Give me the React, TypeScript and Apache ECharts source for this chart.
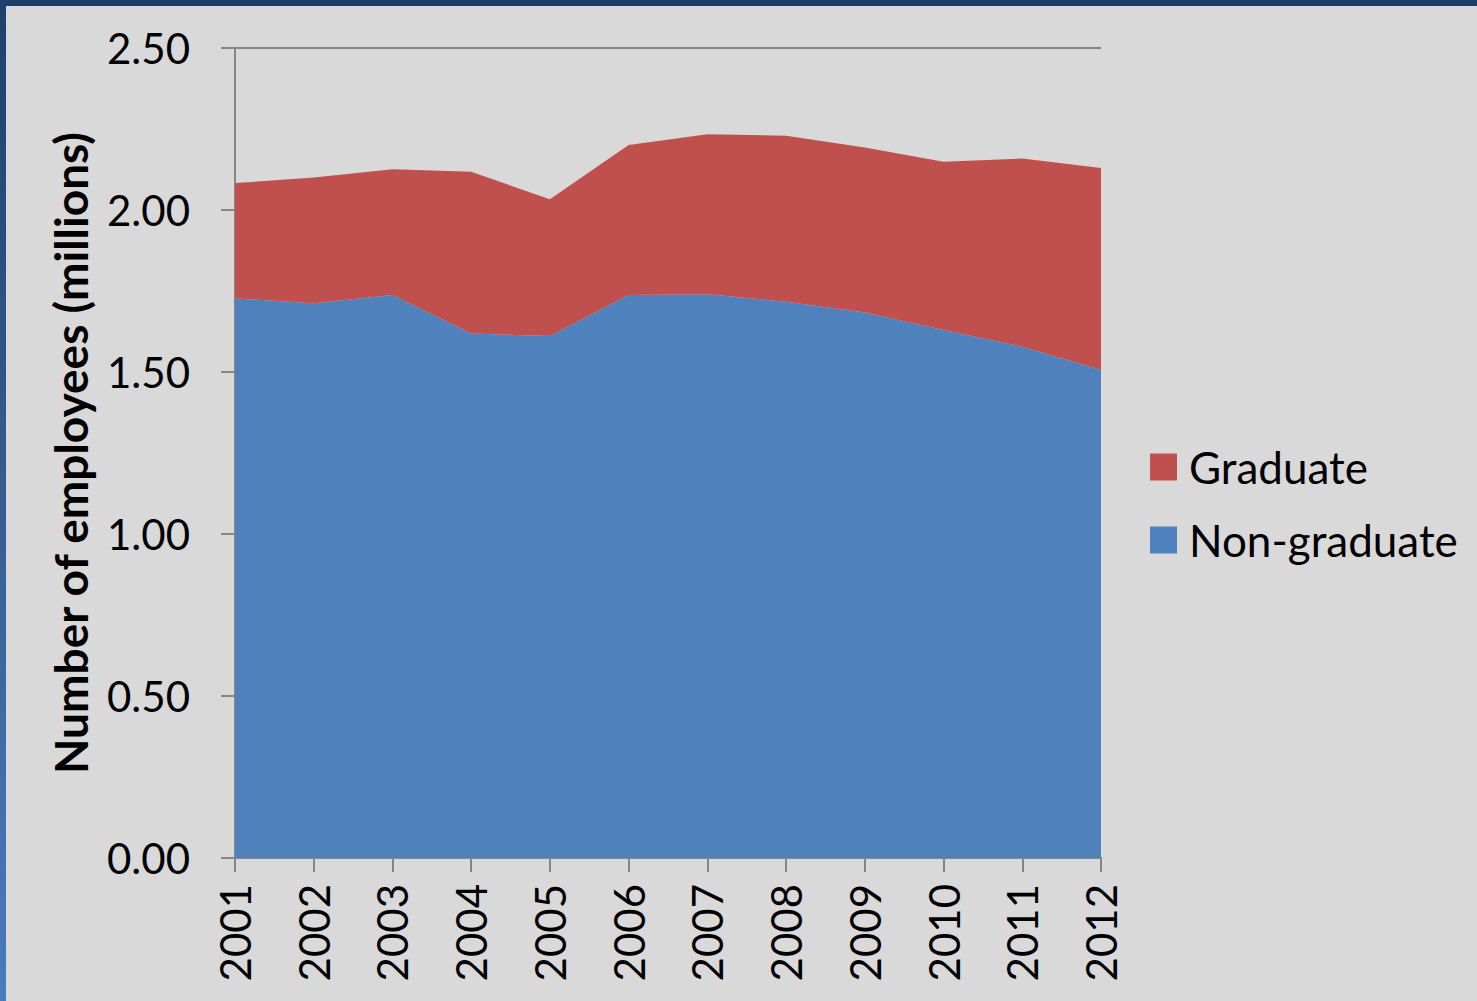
import React, { useEffect, useRef } from "react";
import * as echarts from "echarts";

const years = ["2001", "2002", "2003", "2004", "2005", "2006", "2007", "2008", "2009", "2010", "2011", "2012"];
const nonGraduate = [1.727, 1.712, 1.738, 1.619, 1.611, 1.738, 1.74, 1.717, 1.684, 1.63, 1.578, 1.506];
const graduate = [0.356, 0.388, 0.388, 0.499, 0.422, 0.463, 0.494, 0.512, 0.509, 0.519, 0.581, 0.624];
const yTicks = { min: 0, max: 2.5, interval: 0.5 };

const FONT = "Lato, 'Noto Sans', sans-serif";

export default function App() {
  const ref = useRef<HTMLDivElement>(null);
  useEffect(() => {
    document.body.style.margin = "0";
    const chart = echarts.init(ref.current!, null, { renderer: "svg" });
    chart.setOption({
      animation: false,
      backgroundColor: "#d9d9d9",
      textStyle: { fontFamily: FONT },
      graphic: [
        { type: "rect", left: 0, top: 0, shape: { width: 1477, height: 6 }, style: { fill: "#1f3f6b" }, z: 100 },
        {
          type: "rect",
          left: 0,
          top: 0,
          shape: { width: 6, height: 1001 },
          style: {
            fill: new echarts.graphic.LinearGradient(0, 0, 0, 1, [
              { offset: 0, color: "#1f3f6b" },
              { offset: 1, color: "#4a7cbb" },
            ]),
          },
          z: 100,
        },
      ],
      grid: { left: 235, right: 376, top: 48, bottom: 143, containLabel: false },
      legend: {
        orient: "vertical",
        left: 1145,
        top: 440,
        itemWidth: 27,
        itemHeight: 27,
        itemGap: 29,
        icon: "rect",
        data: ["Graduate", "Non-graduate"],
        textStyle: { fontSize: 44, color: "#000", fontFamily: FONT, padding: [0, 0, 0, 7] },
      },
      xAxis: {
        type: "category",
        data: years,
        boundaryGap: false,
        axisLine: { lineStyle: { color: "#868686", width: 2 } },
        axisTick: { alignWithLabel: true, length: 14, lineStyle: { color: "#868686", width: 2 } },
        axisLabel: { rotate: 90, fontSize: 42, color: "#000", margin: 26, interval: 0, fontFamily: FONT },
        splitLine: { show: false },
      },
      yAxis: {
        type: "value",
        min: yTicks.min,
        max: yTicks.max,
        interval: yTicks.interval,
        name: "Number of employees (millions)",
        nameLocation: "middle",
        nameRotate: 90,
        nameGap: 142,
        nameTextStyle: { fontSize: 46, fontWeight: "bold", color: "#000", fontFamily: FONT },
        axisLine: { show: true, lineStyle: { color: "#868686", width: 2 } },
        axisTick: { show: true, length: 14, lineStyle: { color: "#868686", width: 2 } },
        axisLabel: { fontSize: 42, color: "#000", margin: 45, formatter: (v: number) => v.toFixed(2), fontFamily: FONT },
        splitLine: { show: true, lineStyle: { color: "#868686", width: 2 } },
      },
      series: [
        {
          name: "Non-graduate",
          type: "line",
          stack: "total",
          data: nonGraduate,
          symbol: "none",
          lineStyle: { width: 0 },
          itemStyle: { color: "#4f81bd" },
          areaStyle: { color: "#4f81bd", opacity: 1 },
        },
        {
          name: "Graduate",
          type: "line",
          stack: "total",
          data: graduate,
          symbol: "none",
          lineStyle: { width: 0 },
          itemStyle: { color: "#c0504d" },
          areaStyle: { color: "#c0504d", opacity: 1 },
        },
      ],
    });
    return () => chart.dispose();
  }, []);
  return <div ref={ref} style={{ width: 1477, height: 1001 }} />;
}
